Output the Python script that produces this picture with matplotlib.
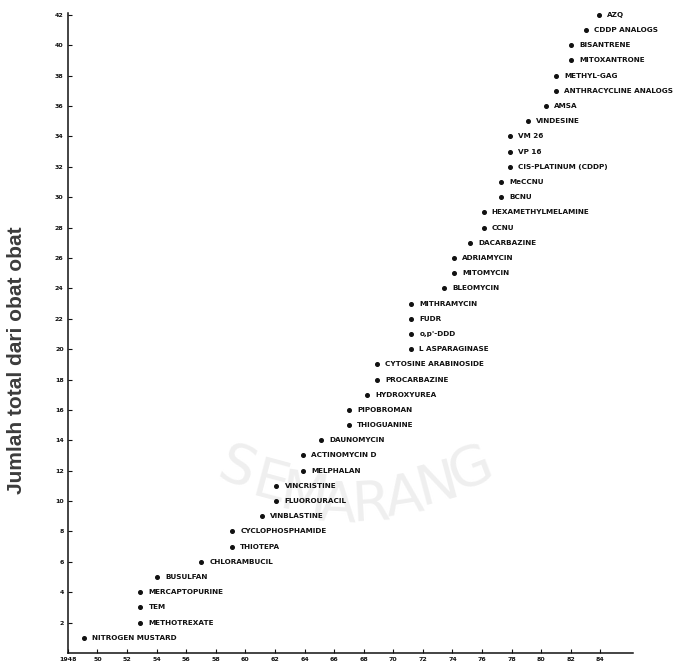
import matplotlib
matplotlib.use('Agg')
import matplotlib.pyplot as plt

# drugs in order of introduction (y = running total)
drugs = ['NITROGEN MUSTARD', 'METHOTREXATE', 'TEM', 'MERCAPTOPURINE', 'BUSULFAN',
         'CHLORAMBUCIL', 'THIOTEPA', 'CYCLOPHOSPHAMIDE', 'VINBLASTINE', 'FLUOROURACIL',
         'VINCRISTINE', 'MELPHALAN', 'ACTINOMYCIN D', 'DAUNOMYCIN', 'THIOGUANINE',
         'PIPOBROMAN', 'HYDROXYUREA', 'PROCARBAZINE', 'CYTOSINE ARABINOSIDE', 'L ASPARAGINASE',
         "o,p'-DDD", 'FUDR', 'MITHRAMYCIN', 'BLEOMYCIN', 'MITOMYCIN',
         'ADRIAMYCIN', 'DACARBAZINE', 'CCNU', 'HEXAMETHYLMELAMINE', 'BCNU',
         'MeCCNU', 'CIS-PLATINUM (CDDP)', 'VP 16', 'VM 26', 'VINDESINE',
         'AMSA', 'ANTHRACYCLINE ANALOGS', 'METHYL-GAG', 'MITOXANTRONE', 'BISANTRENE',
         'CDDP ANALOGS', 'AZQ']
years = [1949.1, 1952.9, 1952.9, 1952.9, 1954.0,
         1957.0, 1959.1, 1959.1, 1961.1, 1962.1,
         1962.1, 1963.9, 1963.9, 1965.1, 1967.0,
         1967.0, 1968.2, 1968.9, 1968.9, 1971.2,
         1971.2, 1971.2, 1971.2, 1973.4, 1974.1,
         1974.1, 1975.2, 1976.1, 1976.1, 1977.3,
         1977.3, 1977.9, 1977.9, 1977.9, 1979.1,
         1980.3, 1981.0, 1981.0, 1982.0, 1982.0,
         1983.0, 1983.9]
totals = list(range(1, len(drugs) + 1))

xticks = list(range(1948, 1985, 2))
xticklabels = ['1948'] + [str(y)[2:] for y in xticks[1:]]
yticks = list(range(2, 43, 2))

fig = plt.figure(figsize=(6.85, 6.67), dpi=100)

# faint scan watermark (university logo text, arched) - kept behind the axes
wm = 'SEMARANG'
for i, ch in enumerate(wm):
    fig.text(0.345 + i * 0.049, 0.24 + 0.0075 * abs(i - 3.5) ** 1.6, ch, fontsize=40,
             color='#efefef', ha='center', va='center',
             rotation=(i - 3.5) * 6, zorder=-10)

ax = fig.add_axes([0.099, 0.021, 0.825, 0.959])
ax.patch.set_alpha(0)

ax.plot(years, totals, 'o', color='#111111', markersize=2.6, linestyle='none')
for name, x, y in zip(drugs, years, totals):
    ax.annotate(name, (x, y), xytext=(6, 0), textcoords='offset points',
                va='center', ha='left', fontsize=5.2, fontweight='bold', color='#111111')

ax.set_xlim(1948, 1986.2)
ax.set_ylim(0, 42.1)
ax.set_xticks(xticks)
ax.set_xticklabels(xticklabels)
ax.set_yticks(yticks)
ax.tick_params(direction='in', length=3, width=0.8, labelsize=4.5, colors='#111111', pad=3)
for lbl in ax.get_xticklabels() + ax.get_yticklabels():
    lbl.set_fontweight('bold')

for side in ['top', 'right']:
    ax.spines[side].set_visible(False)
for side in ['left', 'bottom']:
    ax.spines[side].set_linewidth(1.1)
    ax.spines[side].set_color('#111111')

fig.text(0.024, 0.46, 'Jumlah total dari obat obat', rotation=90, ha='center', va='center',
         fontsize=15, color='#3c3c3c', family='Liberation Sans', fontweight='bold')

plt.savefig('out.png', dpi=100)
